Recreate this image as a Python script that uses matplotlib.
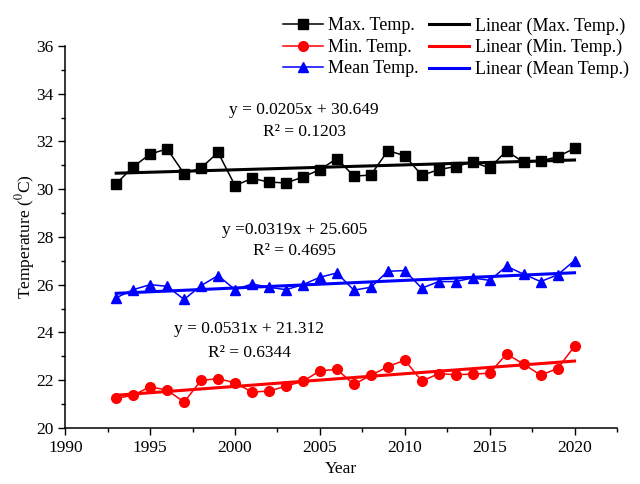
"""Annual max / min / mean temperature with linear trends."""

import matplotlib

matplotlib.use("Agg")
import matplotlib.pyplot as plt
import numpy as np
from matplotlib.ticker import MultipleLocator

plt.rcParams["font.family"] = ["Liberation Serif", "DejaVu Serif"]
plt.rcParams["mathtext.fontset"] = "stix"

years = list(range(1993, 2021))

max_temp = [30.23, 30.94, 31.47, 31.69, 30.65, 30.89, 31.54, 30.15, 30.45, 30.30,
            30.26, 30.51, 30.82, 31.28, 30.55, 30.59, 31.61, 31.41, 30.58, 30.82,
            30.95, 31.14, 30.89, 31.61, 31.12, 31.18, 31.36, 31.71]
min_temp = [21.23, 21.37, 21.72, 21.58, 21.08, 21.99, 22.06, 21.89, 21.50, 21.54,
            21.75, 21.95, 22.39, 22.45, 21.82, 22.20, 22.56, 22.84, 21.96, 22.27,
            22.23, 22.25, 22.29, 23.10, 22.67, 22.21, 22.48, 23.42]
mean_temp = [25.45, 25.79, 26.00, 25.93, 25.38, 25.96, 26.38, 25.79, 26.03, 25.89,
             25.79, 26.00, 26.31, 26.49, 25.77, 25.89, 26.56, 26.59, 25.85, 26.13,
             26.13, 26.28, 26.18, 26.77, 26.44, 26.13, 26.41, 27.01]

# trend coefficients as printed on the chart (x = year index starting at 1)
fit_max = (0.0205, 30.649)
fit_min = (0.0531, 21.312)
fit_mean = (0.0319, 25.605)

eq_max = ["y = 0.0205x + 30.649", "R² = 0.1203"]
eq_mean = ["y =0.0319x + 25.605", "R² = 0.4695"]
eq_min = ["y = 0.0531x + 21.312", "R² = 0.6344"]

fig = plt.figure(figsize=(6.4, 4.84), dpi=100)
ax = fig.add_axes([0.102, 0.116, 0.862, 0.789])

yrs = np.array(years)
idx = np.arange(1, len(years) + 1)

ax.plot(yrs, max_temp, color="black", lw=1.1, marker="s", ms=6.5, label="Max. Temp.")
ax.plot(yrs, min_temp, color="red", lw=1.1, marker="o", ms=7, label="Min. Temp.")
ax.plot(yrs, mean_temp, color="blue", lw=1.1, marker="^", ms=7.5, label="Mean Temp.")
ax.plot(yrs, fit_max[0] * idx + fit_max[1], color="black", lw=2.2, label="Linear (Max. Temp.)")
ax.plot(yrs, fit_min[0] * idx + fit_min[1], color="red", lw=2.2, label="Linear (Min. Temp.)")
ax.plot(yrs, fit_mean[0] * idx + fit_mean[1], color="blue", lw=2.2, label="Linear (Mean Temp.)")

fs_eq = 12.5
ax.text(2004.07, 33.30, eq_max[0], ha="center", va="center", fontsize=fs_eq)
ax.text(2004.07, 32.41, eq_max[1], ha="center", va="center", fontsize=fs_eq)
ax.text(2003.49, 28.31, eq_mean[0], ha="center", va="center", fontsize=fs_eq)
ax.text(2003.49, 27.40, eq_mean[1], ha="center", va="center", fontsize=fs_eq)
ax.text(2000.84, 24.15, eq_min[0], ha="center", va="center", fontsize=fs_eq)
ax.text(2000.84, 23.15, eq_min[1], ha="center", va="center", fontsize=fs_eq)

ax.set_xlim(1990, 2022.5)
ax.set_ylim(20, 36)
ax.xaxis.set_major_locator(MultipleLocator(5))
ax.xaxis.set_minor_locator(MultipleLocator(2.5))
ax.yaxis.set_major_locator(MultipleLocator(2))
ax.yaxis.set_minor_locator(MultipleLocator(1))
ax.tick_params(which="major", direction="out", length=5, width=1, labelsize=12.5, pad=3.5)
ax.tick_params(which="minor", direction="out", length=3, width=1)
for side in ("top", "right"):
    ax.spines[side].set_visible(False)
for side in ("left", "bottom"):
    ax.spines[side].set_linewidth(1.1)

ax.set_xlabel("Year", fontsize=12.5, labelpad=4)
ax.set_ylabel(r"Temperature ($^0$C)", fontsize=12.5, labelpad=-1)

fig.legend(loc="upper right", bbox_to_anchor=(1.0075, 0.998), ncol=2, frameon=False,
           fontsize=13, handlelength=2.2, columnspacing=0.6, handletextpad=0.3,
           labelspacing=0.25)

fig.savefig("out.png", dpi=100, facecolor="white")
